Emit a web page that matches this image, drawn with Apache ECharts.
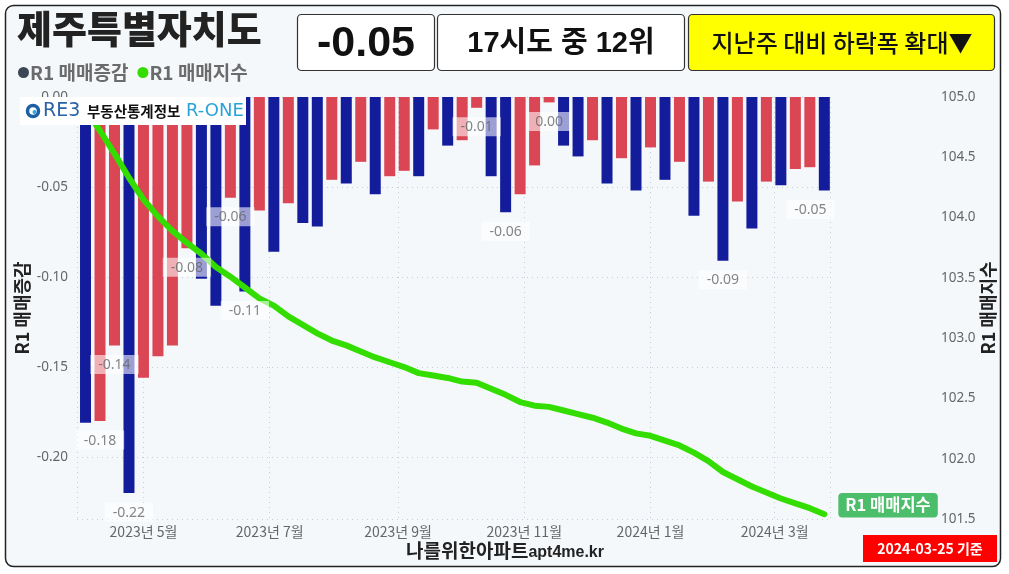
<!DOCTYPE html>
<html>
<head>
<meta charset="utf-8">
<script src="https://cdn.jsdelivr.net/npm/echarts@6/dist/echarts.min.js"></script>
<style>
html,body{margin:0;padding:0;background:#ffffff;}
#c{width:1009px;height:574px;}
</style>
</head>
<body>
<div id="c"></div>
<script>
// ---------------- data ----------------
const regionName = '제주특별자치도';
const rankText = '17시도 중 12위';
const trendText = '지난주 대비 하락폭 확대▼';
const baseDateText = '2024-03-25 기준';
const changeName = 'R1 매매증감';
const indexName = 'R1 매매지수';

const weeks = [
  '2023-04-03','2023-04-10','2023-04-17','2023-04-24',
  '2023-05-01','2023-05-08','2023-05-15','2023-05-22','2023-05-29',
  '2023-06-05','2023-06-12','2023-06-19','2023-06-26',
  '2023-07-03','2023-07-10','2023-07-17','2023-07-24','2023-07-31',
  '2023-08-07','2023-08-14','2023-08-21','2023-08-28',
  '2023-09-04','2023-09-11','2023-09-18','2023-09-25',
  '2023-10-02','2023-10-09','2023-10-16','2023-10-23','2023-10-30',
  '2023-11-06','2023-11-13','2023-11-20','2023-11-27',
  '2023-12-04','2023-12-11','2023-12-18','2023-12-25',
  '2024-01-01','2024-01-08','2024-01-15','2024-01-22','2024-01-29',
  '2024-02-05','2024-02-12','2024-02-19','2024-02-26',
  '2024-03-04','2024-03-11','2024-03-18','2024-03-25'
];

const changeValues = [
  -0.181, -0.180, -0.138, -0.220, -0.156, -0.144, -0.138, -0.084, -0.101, -0.116,
  -0.056, -0.108, -0.063, -0.086, -0.059, -0.070, -0.072, -0.046, -0.048, -0.036,
  -0.054, -0.044, -0.041, -0.044, -0.018, -0.027, -0.024, -0.006, -0.044, -0.064,
  -0.054, -0.038, -0.003, -0.027, -0.033, -0.024, -0.048, -0.034, -0.052, -0.028,
  -0.046, -0.036, -0.066, -0.047, -0.091, -0.058, -0.073, -0.047, -0.049, -0.040,
  -0.039, -0.052
];

const indexValues = [
  104.90, 104.72, 104.53, 104.33, 104.15, 104.01, 103.89, 103.79, 103.70, 103.59,
  103.51, 103.42, 103.33, 103.27, 103.18, 103.11, 103.04, 102.98, 102.94, 102.89,
  102.84, 102.80, 102.76, 102.71, 102.69, 102.67, 102.64, 102.63, 102.58, 102.53,
  102.47, 102.44, 102.43, 102.40, 102.37, 102.34, 102.30, 102.25, 102.21, 102.19,
  102.15, 102.11, 102.05, 101.98, 101.89, 101.83, 101.77, 101.72, 101.67, 101.63,
  101.59, 101.54
];

// weeks whose change value is printed as a data label
const labeledWeeks = [1, 2, 3, 7, 10, 11, 27, 29, 32, 44, 51];

// ---------------- styles ----------------
const BLUE = '#131d9c';
const RED = '#da4654';
const GREEN = '#33dd00';
const KR = '"Noto Sans CJK KR", "Noto Sans", sans-serif';
const NUM = '"Noto Sans", "Noto Sans CJK KR", sans-serif';

function fmt2(v) { return (Math.round(v * 100) / 100).toFixed(2); }

const barData = weeks.map((w, i) => {
  const prev = i > 0 ? changeValues[i - 1] : null;
  const col = (prev === null || changeValues[i] < prev) ? BLUE : RED;
  return { value: [w, changeValues[i]], itemStyle: { color: col } };
});

const labelData = labeledWeeks.map(i => {
  const item = { value: [weeks[i], changeValues[i]] };
  if (i === weeks.length - 1) item.label = { offset: [-14, 0] };
  return item;
});

const lineData = weeks.map((w, i) => [w, indexValues[i]]);

const chart = echarts.init(document.getElementById('c'), null, { renderer: 'canvas' });

const option = {
  backgroundColor: 'transparent',
  animation: false,
  title: {
    text: regionName,
    left: 12, top: 5,
    textStyle: { fontFamily: KR, fontSize: 38, fontWeight: 900, color: '#222' }
  },
  legend: {
    left: 13, top: 58,
    itemWidth: 11, itemHeight: 11, itemGap: 9,
    icon: 'circle',
    textStyle: { fontFamily: KR, fontSize: 19, fontWeight: 'bold', color: '#6b6b6b', padding: [0,0,0,-4] },
    data: [
      { name: changeName, itemStyle: { color: '#3b4754' } },
      { name: indexName, itemStyle: { color: GREEN } }
    ]
  },
  grid: { left: 77, right: 179, top: 97, bottom: 55, containLabel: false },
  xAxis: {
    type: 'time',
    // (ECharts pads this extent by half a bar width on each side)
    min: '2023-04-01 13:00',
    max: '2024-03-25 02:00',
    axisLine: { show: false },
    axisTick: { show: false },
    splitLine: { show: true, lineStyle: { type: [1, 4], color: '#c9ced6', width: 1 } },
    axisLabel: {
      fontFamily: KR, fontSize: 14, color: '#666', margin: 6,
      formatter: function (v) {
        const d = new Date(v);
        return d.getFullYear() + '년 ' + (d.getMonth() + 1) + '월';
      }
    }
  },
  yAxis: [
    {
      type: 'value',
      min: -0.2344, max: 0,
      splitNumber: 5,
      name: changeName,
      nameLocation: 'middle',
      nameMoveOverlap: false,
      nameGap: 46,
      nameRotate: 90,
      nameTextStyle: { fontFamily: KR, fontSize: 18, fontWeight: 'bold', color: '#222' },
      axisLine: { show: false },
      axisTick: { show: false },
      axisLabel: { fontFamily: NUM, fontSize: 13.5, color: '#666', margin: 9, showMinLabel: false,
        formatter: v => v.toFixed(2) },
      splitLine: { show: true, lineStyle: { type: [1, 4], color: '#c9ced6', width: 1 } }
    },
    {
      type: 'value',
      min: 101.5, max: 105, interval: 0.5,
      position: 'right',
      offset: 103,
      name: indexName,
      nameLocation: 'middle',
      nameMoveOverlap: false,
      nameGap: 46,
      nameRotate: 90,
      nameTextStyle: { fontFamily: KR, fontSize: 18, fontWeight: 'bold', color: '#222' },
      axisLine: { show: false },
      axisTick: { show: false },
      axisLabel: { fontFamily: NUM, fontSize: 13.5, color: '#666', margin: 8,
        formatter: v => v.toFixed(1) },
      splitLine: { show: false }
    }
  ],
  series: [
    {
      name: changeName,
      type: 'bar',
      yAxisIndex: 0,
      barWidth: 11,
      z: 2,
      data: barData
    },
    {
      name: indexName,
      type: 'line',
      yAxisIndex: 1,
      z: 3,
      showSymbol: false,
      symbol: 'none',
      smooth: false,
      lineStyle: { color: GREEN, width: 6, cap: 'round', join: 'round' },
      itemStyle: { color: GREEN },
      endLabel: {
        show: true,
        formatter: indexName,
        distance: 14,
        offset: [0, -9],
        fontFamily: KR, fontSize: 16.5, fontWeight: 'bold', color: '#ffffff',
        backgroundColor: '#4cbd6a', borderRadius: 4, padding: [5, 7, 3, 7]
      },
      data: lineData
    },
    {
      name: 'labels',
      type: 'scatter',
      yAxisIndex: 0,
      z: 6,
      symbolSize: 1,
      itemStyle: { color: 'rgba(0,0,0,0)' },
      silent: true,
      label: {
        show: true,
        position: 'bottom',
        distance: 9,
        formatter: p => fmt2(p.value[1]),
        fontFamily: NUM,
        fontSize: 14, color: '#666',
        backgroundColor: 'rgba(255,255,255,0.72)',
        padding: [3, 8, 2, 8]
      },
      data: labelData
    }
  ],
  graphic: [
    // outer frame / background
    { type: 'rect', z: -100, silent: true,
      shape: { x: 5.5, y: 5.5, width: 995, height: 561, r: 8 },
      style: { fill: '#f5f8fb', stroke: '#222', lineWidth: 1.5 } },
    // headline boxes
    { type: 'rect', z: 10, shape: { x: 297.5, y: 14.5, width: 137, height: 56, r: 4 },
      style: { fill: '#ffffff', stroke: '#333', lineWidth: 1.2 } },
    { type: 'text', z: 11, x: 366, y: 44,
      style: { text: fmt2(changeValues[changeValues.length - 1]), fontFamily: '"Liberation Sans", Arial, sans-serif',
        fontSize: 43, fontWeight: 'bold', fill: '#111', align: 'center', verticalAlign: 'middle' } },
    { type: 'rect', z: 10, shape: { x: 437.5, y: 14.5, width: 247, height: 56, r: 4 },
      style: { fill: '#ffffff', stroke: '#333', lineWidth: 1.2 } },
    { type: 'text', z: 11, x: 561, y: 44,
      style: { text: rankText, fontFamily: '"Liberation Sans", "Noto Sans CJK KR", sans-serif',
        fontSize: 29, fontWeight: 'bold', fill: '#111', align: 'center', verticalAlign: 'middle' } },
    { type: 'rect', z: 10, shape: { x: 688.5, y: 14.5, width: 306, height: 56, r: 4 },
      style: { fill: '#ffff00', stroke: '#333', lineWidth: 1.2 } },
    { type: 'text', z: 11, x: 842, y: 43,
      style: { text: trendText, fontFamily: KR,
        fontSize: 24, fontWeight: 500, fill: '#111', align: 'center', verticalAlign: 'middle' } },
    // logo
    { type: 'rect', z: 20, shape: { x: 20, y: 97, width: 226, height: 28 },
      style: { fill: '#ffffff' } },
    { type: 'circle', z: 21, shape: { cx: 33, cy: 111, r: 5.5 },
      style: { fill: 'none', stroke: '#1d5fa3', lineWidth: 3.5 } },
    { type: 'circle', z: 22, shape: { cx: 34.5, cy: 112, r: 2 },
      style: { fill: '#27a8de' } },
    { type: 'text', z: 21, x: 43, y: 111,
      style: { text: 'RE3', fontFamily: '"DejaVu Sans", sans-serif', fontSize: 19, fontWeight: 'normal',
        fill: '#2a62a8', verticalAlign: 'middle' } },
    { type: 'text', z: 21, x: 87, y: 111,
      style: { text: '부동산통계정보', fontFamily: KR, fontSize: 14.5, fontWeight: 'bold',
        fill: '#111', verticalAlign: 'middle' } },
    { type: 'text', z: 21, x: 186, y: 111,
      style: { text: 'R-ONE', fontFamily: '"DejaVu Sans", sans-serif', fontSize: 18,
        fill: '#2aa3d9', verticalAlign: 'middle' } },
    // watermark
    { type: 'text', z: 11, x: 505, y: 551,
      style: { text: '{a|나를위한아파트}{b|apt4me.kr}', align: 'center', verticalAlign: 'middle',
        rich: {
          a: { fontFamily: KR, fontSize: 19, fontWeight: 'bold', fill: '#222', color: '#222' },
          b: { fontFamily: '"Liberation Sans", sans-serif', fontSize: 16, fontWeight: 'bold', fill: '#222', color: '#222', padding: [4, 0, 0, 0] }
        } } },
    // date box
    { type: 'rect', z: 10, shape: { x: 863, y: 535, width: 134, height: 27 },
      style: { fill: '#ff0000' } },
    { type: 'text', z: 11, x: 930, y: 549,
      style: { text: baseDateText, fontFamily: KR, fontSize: 14, fontWeight: 'bold',
        fill: '#ffffff', align: 'center', verticalAlign: 'middle' } }
  ]
};

chart.setOption(option);
</script>
</body>
</html>
